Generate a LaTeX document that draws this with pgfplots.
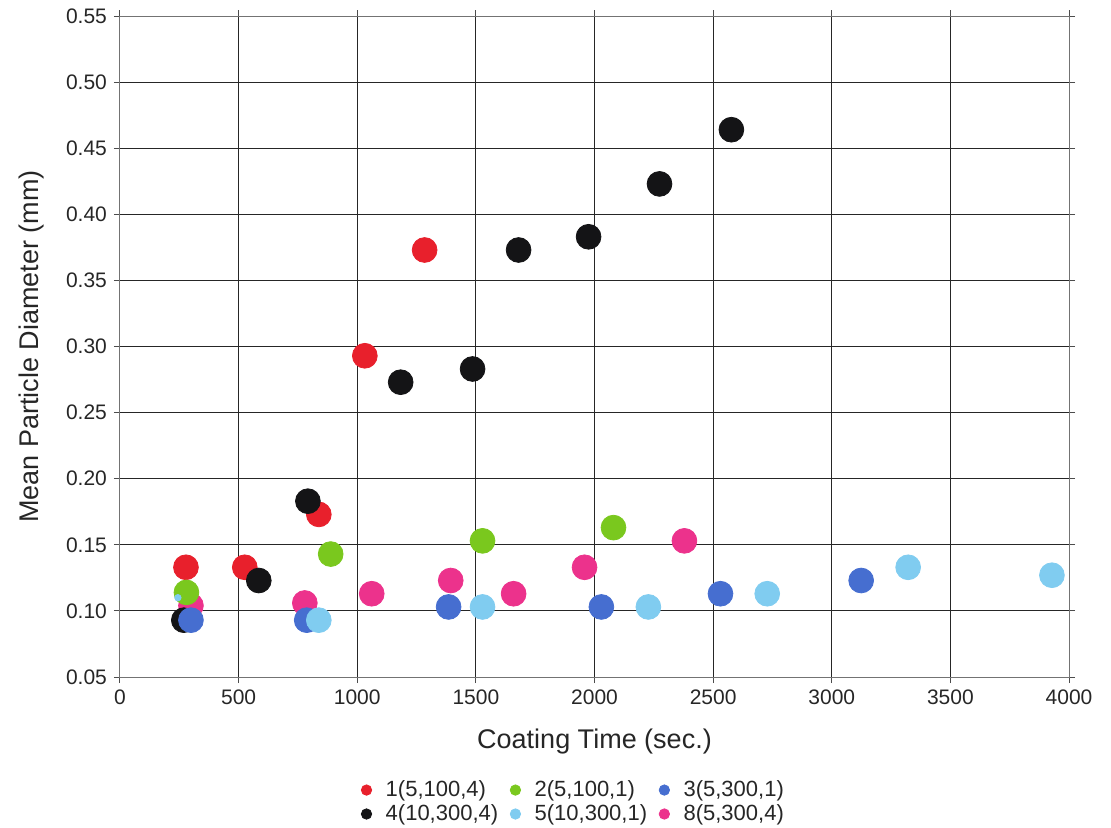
\documentclass[border=0pt]{standalone}
\usepackage{pgfplots}
\pgfplotsset{compat=1.18}
\usepackage{fontspec}
\setmainfont{Liberation Sans}
\definecolor{cred}{RGB}{232,32,44}
\definecolor{cgreen}{RGB}{122,200,30}
\definecolor{cblue}{RGB}{70,110,208}
\definecolor{cblack}{RGB}{20,20,22}
\definecolor{clight}{RGB}{128,204,240}
\definecolor{cpink}{RGB}{236,50,140}
\begin{document}
\begin{tikzpicture}
\useasboundingbox (-60pt,-75pt) rectangle (495.5pt,338.5pt);
\begin{axis}[
  at={(0pt,0pt)}, anchor=south west,
  scale only axis, width=474.5pt, height=330.5pt,
  xmin=0, xmax=4000, ymin=0.05, ymax=0.55,
  xtick={0,500,...,4000}, ytick={0.05,0.10,...,0.56},
  grid=major,
  grid style={black!85, line width=0.5pt},
  axis line style={black!55, line width=0.5pt},
  tick align=outside, major tick length=3pt,
  tick style={black!70, line width=0.5pt},
  /pgf/number format/assume math mode=true,
  x tick label style={/pgf/number format/1000 sep={}, font=\fontsize{10.5}{12}\selectfont, color=black!85},
  y tick label style={/pgf/number format/.cd, fixed, fixed zerofill, precision=2, /tikz/.cd, font=\fontsize{10.5}{12}\selectfont, color=black!85},
  xlabel={Coating Time (sec.)},
  ylabel={Mean Particle Diameter (mm)},
  label style={font=\fontsize{13.5}{15}\selectfont, color=black!85},
  xlabel style={yshift=-5pt},
  ylabel style={yshift=4pt},
  legend columns=3,
  legend style={at={(0.479,-0.144)}, anchor=north, draw=none, fill=none,
    font=\fontsize{11}{12}\selectfont, text=black!85,
    /tikz/every odd column/.append style={column sep=5pt},
    /tikz/every even column/.append style={column sep=4pt},
    row sep=-1.5pt},
  legend cell align=left,
  every axis plot/.append style={only marks, mark=*, mark size=6.2pt},
]
% red 1(5,100,4)
\addplot[cred, mark options={draw=cred, fill=cred}, forget plot] coordinates {
 (278,0.133) (526,0.133) (838,0.173) (1032,0.293) (1284,0.373)};
% pink 8(5,300,4)
\addplot[cpink, mark options={draw=cpink, fill=cpink}, forget plot] coordinates {
 (299,0.104) (779,0.106) (1061,0.113) (1394,0.123) (1659,0.113) (1958,0.133) (2379,0.153)};
% green 2(5,100,1)
\addplot[cgreen, mark options={draw=cgreen, fill=cgreen}, forget plot] coordinates {
 (280,0.114) (888,0.143) (1528,0.153) (2080,0.163)};
% black 4(10,300,4)
\addplot[cblack, mark options={draw=cblack, fill=cblack}, forget plot] coordinates {
 (269,0.093) (585,0.123) (792,0.183) (1183,0.273) (1486,0.283) (1680,0.373) (1975,0.383) (2274,0.423) (2577,0.464)};
% blue 3(5,300,1)
\addplot[cblue, mark options={draw=cblue, fill=cblue}, forget plot] coordinates {
 (299,0.093) (787,0.093) (1385,0.103) (2029,0.103) (2531,0.113) (3124,0.123)};
% light blue 5(10,300,1)
\addplot[clight, mark options={draw=clight, fill=clight}, forget plot] coordinates {
 (838,0.093) (1528,0.103) (2227,0.103) (2728,0.113) (3322,0.133) (3928,0.127)};
\addplot[clight, mark options={draw=clight, fill=clight}, mark size=1.6pt, forget plot] coordinates {
 (244,0.110)};
% legend
\addlegendimage{only marks, mark=*, mark size=2.6pt, cred}
\addlegendentry{1(5,100,4)}
\addlegendimage{only marks, mark=*, mark size=2.6pt, cgreen}
\addlegendentry{2(5,100,1)}
\addlegendimage{only marks, mark=*, mark size=2.6pt, cblue}
\addlegendentry{3(5,300,1)}
\addlegendimage{only marks, mark=*, mark size=2.6pt, cblack}
\addlegendentry{4(10,300,4)}
\addlegendimage{only marks, mark=*, mark size=2.6pt, clight}
\addlegendentry{5(10,300,1)}
\addlegendimage{only marks, mark=*, mark size=2.6pt, cpink}
\addlegendentry{8(5,300,4)}
\end{axis}
\end{tikzpicture}
\end{document}
